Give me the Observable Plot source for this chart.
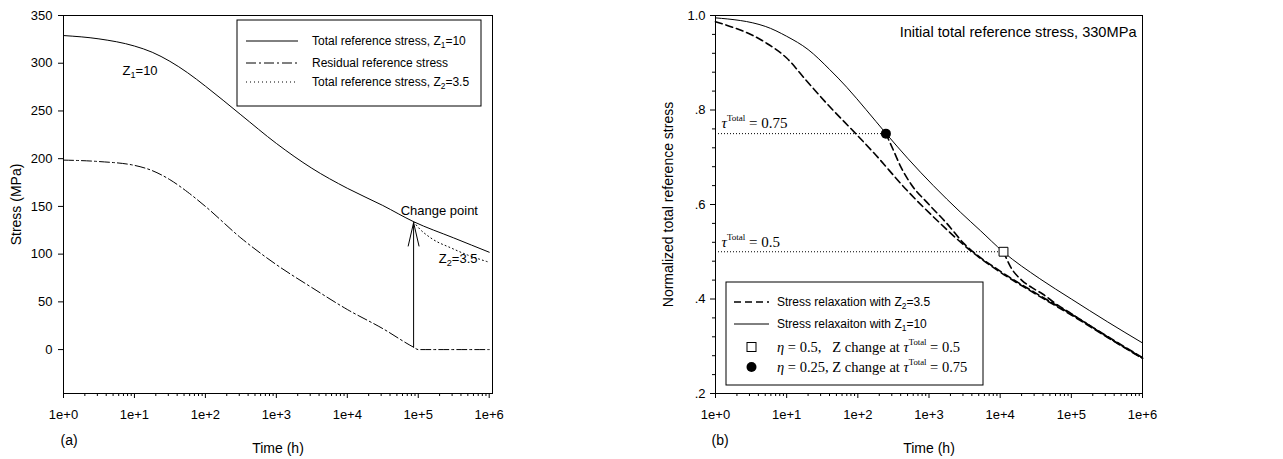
<!DOCTYPE html>
<html><head><meta charset="utf-8">
<script src="https://cdn.jsdelivr.net/npm/d3@7"></script>
<script src="https://cdn.jsdelivr.net/npm/@observablehq/plot@0.6"></script>
<style>
html,body{margin:0;padding:0;background:#fff;}
#wrap{display:flex;width:1283px;height:459px;overflow:hidden;}
#wrap svg{display:block;}
</style></head><body><div id="wrap"></div>
<script>
// ---------- Panel (a) data ----------
const totalTime   = [1, 3.16, 10, 17.8, 31.6, 56.2, 100, 316, 1000, 3160, 1e4, 3.16e4, 8.6e4, 3.16e5, 1e6];
const totalStress = [329, 325.5, 318, 311.5, 302, 290, 276, 246, 216, 190, 169, 151, 134, 117, 102];
const residualTime   = [1, 3.16, 10, 17.8, 31.6, 56.2, 100, 316, 1000, 3160, 1e4, 3.16e4, 8.6e4, 1e5, 1e6];
const residualStress = [198.5, 197, 193, 187.5, 178, 165, 150, 117, 89, 65, 42, 22, 2.5, 0, 0];
const z2Time   = [8.6e4, 1e5, 1.5e5, 3e5, 5e5, 1e6];
const z2Stress = [134, 128, 117, 106, 99, 91.5];
const changeTime = 8.6e4, changeLow = 2.5, changeHigh = 133;
const leftYTicks = [0, 50, 100, 150, 200, 250, 300, 350];

// ---------- Panel (b) data ----------
const z1NTime = [1, 5, 10, 20, 40, 70, 130, 250, 500, 1150, 2750, 5250, 1.1e4, 3.6e4, 1e5, 3.2e5, 1e6];
const z1Norm  = [0.995, 0.977, 0.956, 0.928, 0.886, 0.848, 0.801, 0.750, 0.698, 0.640, 0.584, 0.545, 0.500, 0.443, 0.400, 0.352, 0.307];
const z2NTime = [1, 5, 10, 19, 37, 92, 166, 490, 1440, 4000, 1e4, 3.2e4, 1e5, 3.2e5, 1e6];
const z2Norm  = [0.987, 0.943, 0.910, 0.862, 0.813, 0.751, 0.710, 0.630, 0.560, 0.500, 0.457, 0.410, 0.366, 0.319, 0.274];
const b75Time = [248, 320, 400, 560, 1000, 1780, 3160, 4000, 1e4, 3.2e4, 1e5, 3.2e5, 1e6];
const b75Norm = [0.750, 0.713, 0.680, 0.643, 0.600, 0.560, 0.516, 0.502, 0.459, 0.412, 0.368, 0.321, 0.276];
const b50Time = [11140, 14000, 20000, 28000, 40000, 63000, 1e5, 3.2e5, 1e6];
const b50Norm = [0.500, 0.468, 0.440, 0.424, 0.410, 0.388, 0.369, 0.320, 0.275];
const tauLevels   = [0.75, 0.5];
const tauTimes    = [248, 11140];
const rightYMajor = [0.2, 0.4, 0.6, 0.8, 1.0];
const rightYMinor = [0.24,0.28,0.32,0.36,0.44,0.48,0.52,0.56,0.64,0.68,0.72,0.76,0.84,0.88,0.92,0.96];

const xMajor = [1, 10, 100, 1e3, 1e4, 1e5, 1e6];
const xMinor = [];
for (const d of [1, 10, 100, 1e3, 1e4, 1e5]) for (let k = 2; k <= 9; k++) xMinor.push(d * k);

const zip = (ts, vs) => ts.map((t, i) => ({t, v: vs[i]}));
const fmtE = d => "1e+" + Math.round(Math.log10(d));
const SANS = "'Liberation Sans', Arial, sans-serif";
const SERIF = "'Liberation Serif', 'Times New Roman', serif";

// markup: _{sub}  ^{sup}  ~{italic}
function richify(svg) {
  d3.select(svg).selectAll("text").each(function () {
    const el = this;
    const t = el.textContent;
    if (!/[_^~]\{/.test(t)) return;
    while (el.firstChild) el.removeChild(el.firstChild);
    const re = /([_^~])\{([^}]*)\}/g;
    let last = 0, m;
    const parts = [];
    while ((m = re.exec(t))) {
      if (m.index > last) parts.push({s: t.slice(last, m.index)});
      parts.push({s: m[2], k: m[1]});
      last = re.lastIndex;
    }
    if (last < t.length) parts.push({s: t.slice(last)});
    for (const p of parts) {
      const ts = d3.select(el).append("tspan").text(p.s);
      if (p.k === "_") ts.attr("font-size", "70%").attr("baseline-shift", "-0.3em");
      if (p.k === "^") ts.attr("font-size", "60%").attr("baseline-shift", "0.75em");
      if (p.k === "~") ts.attr("font-style", "italic");
    }
  });
}

// ---------- Panel (a) ----------
const W1 = 640, H = 459;
const left = Plot.plot({
  width: W1, height: H, marginLeft: 63, marginRight: 148, marginTop: 15, marginBottom: 66,
  style: {fontFamily: SANS, fontSize: "13px", background: "white", color: "black", overflow: "visible"},
  x: {type: "log", domain: [1, 1.113e6], axis: null},
  y: {domain: [-46, 350], axis: null},
  marks: [
    Plot.frame({stroke: "black", strokeWidth: 1}),
    Plot.axisX(xMajor, {tickSize: 5, tickPadding: 11, tickFormat: fmtE, label: null, fontSize: 13}),
    Plot.axisX(xMinor, {tickSize: 3, tickFormat: () => "", label: null}),
    Plot.axisY(leftYTicks, {tickSize: 5, tickPadding: 6, label: null, fontSize: 13}),
    Plot.line(zip(totalTime, totalStress), {x: "t", y: "v", stroke: "black", strokeWidth: 1, curve: "monotone-x"}),
    Plot.line(zip(residualTime, residualStress), {x: "t", y: "v", stroke: "black", strokeWidth: 1, strokeDasharray: "10,3,2,3", curve: "monotone-x"}),
    Plot.line(zip(z2Time, z2Stress), {x: "t", y: "v", stroke: "black", strokeWidth: 1, strokeDasharray: "1,3", curve: "monotone-x"}),
    Plot.arrow([{t: changeTime, lo: changeLow, hi: changeHigh}], {x: "t", y1: "lo", y2: "hi", stroke: "black", strokeWidth: 1, headAngle: 26, headLength: 36}),
    Plot.text(["Z_{1}=10"], {x: 12, y: 292, fontSize: 13}),
    Plot.text(["Change point"], {x: 1.98e5, y: 145, fontSize: 13}),
    Plot.text(["Z_{2}=3.5"], {x: 3.65e5, y: 95, fontSize: 13}),
    Plot.text(["Stress (MPa)"], {frameAnchor: "left", rotate: -90, dx: -47, textAnchor: "middle", fontSize: 14}),
    Plot.text(["Time (h)"], {frameAnchor: "bottom", dy: 59, fontSize: 14}),
    Plot.text(["(a)"], {frameAnchor: "bottom-left", dx: -3, dy: 51, textAnchor: "start", fontSize: 14})
  ]
});

// ---------- Panel (b) ----------
const W2 = 643;
const right = Plot.plot({
  width: W2, height: H, marginLeft: 75, marginRight: 141, marginTop: 15, marginBottom: 66,
  style: {fontFamily: SANS, fontSize: "13px", background: "white", color: "black", overflow: "visible"},
  x: {type: "log", domain: [1, 1e6], axis: null},
  y: {domain: [0.2, 1.0], axis: null},
  marks: [
    Plot.frame({stroke: "black", strokeWidth: 1}),
    Plot.axisX(xMajor, {tickSize: 5, tickPadding: 11, tickFormat: fmtE, label: null, fontSize: 13}),
    Plot.axisX(xMinor, {tickSize: 3, tickFormat: () => "", label: null}),
    Plot.axisY(rightYMajor, {tickSize: 5, tickPadding: 5, label: null, fontSize: 13,
      tickFormat: d => d === 1 ? "1.0" : d.toFixed(1).replace(/^0/, "")}),
    Plot.axisY(rightYMinor, {tickSize: 3, tickFormat: () => "", label: null}),
    Plot.ruleY(tauLevels.map((y, i) => ({y, t: tauTimes[i]})), {y: "y", x1: 1, x2: "t", stroke: "black", strokeWidth: 1, strokeDasharray: "1,2"}),
    Plot.line(zip(z1NTime, z1Norm), {x: "t", y: "v", stroke: "black", strokeWidth: 1, curve: "monotone-x"}),
    Plot.line(zip(z2NTime, z2Norm), {x: "t", y: "v", stroke: "black", strokeWidth: 1.6, strokeDasharray: "7,4", curve: "monotone-x"}),
    Plot.line(zip(b75Time, b75Norm), {x: "t", y: "v", stroke: "black", strokeWidth: 1.6, strokeDasharray: "7,4", curve: "monotone-x"}),
    Plot.line(zip(b50Time, b50Norm), {x: "t", y: "v", stroke: "black", strokeWidth: 1.6, strokeDasharray: "7,4", curve: "monotone-x"}),
    Plot.dot([{t: tauTimes[0], v: tauLevels[0]}], {x: "t", y: "v", r: 5, fill: "black", stroke: "none"}),
    Plot.dot([{t: tauTimes[1], v: tauLevels[1]}], {x: "t", y: "v", r: 5, symbol: "square", fill: "white", stroke: "black", strokeWidth: 1}),
    Plot.text(["~{τ}^{Total} = 0.75"], {x: 1, y: tauLevels[0], dx: 6, dy: -10, textAnchor: "start", fontFamily: SERIF, fontSize: 15}),
    Plot.text(["~{τ}^{Total} = 0.5"], {x: 1, y: tauLevels[1], dx: 6, dy: -10, textAnchor: "start", fontFamily: SERIF, fontSize: 15}),
    Plot.text(["Initial total reference stress, 330MPa"], {frameAnchor: "top-right", dx: -6, dy: 11, fontSize: 14.6}),
    Plot.text(["Normalized total reference stress"], {frameAnchor: "left", rotate: -90, dx: -47, textAnchor: "middle", fontSize: 14}),
    Plot.text(["Time (h)"], {frameAnchor: "bottom", dy: 59, fontSize: 14}),
    Plot.text(["(b)"], {frameAnchor: "bottom-left", dx: -4, dy: 51, textAnchor: "start", fontSize: 14})
  ]
});

// ---------- Legends (layout only) ----------
function legend(svg, box, rows) {
  const g = d3.select(svg).append("g").attr("text-anchor", "start");
  g.append("rect").attr("x", box.x).attr("y", box.y).attr("width", box.w).attr("height", box.h)
    .attr("fill", "white").attr("stroke", "black").attr("stroke-width", 1);
  for (const r of rows) {
    if (r.dash !== undefined) {
      g.append("line").attr("x1", box.sx1).attr("x2", box.sx2).attr("y1", r.y).attr("y2", r.y)
        .attr("stroke", "black").attr("stroke-width", r.sw || 1).attr("stroke-dasharray", r.dash || null);
    }
    if (r.marker === "square") {
      const c = (box.sx1 + box.sx2) / 2;
      g.append("rect").attr("x", c - 4.5).attr("y", r.y - 4.5).attr("width", 9).attr("height", 9)
        .attr("fill", "white").attr("stroke", "black");
    }
    if (r.marker === "dot") {
      g.append("circle").attr("cx", (box.sx1 + box.sx2) / 2).attr("cy", r.y).attr("r", 5).attr("fill", "black");
    }
    g.append("text").attr("x", box.tx).attr("y", r.y).attr("dy", "0.35em")
      .attr("text-anchor", "start").attr("xml:space", "preserve")
      .attr("font-family", r.serif ? SERIF : SANS).attr("font-size", r.fs || 12)
      .style("white-space", "pre").text(r.label);
  }
}
legend(left, {x: 237, y: 20, w: 244, h: 86, sx1: 246, sx2: 298, tx: 312}, [
  {y: 41, dash: "", label: "Total reference stress, Z_{1}=10"},
  {y: 63, dash: "10,3,2,3", label: "Residual reference stress"},
  {y: 82, dash: "1,3", label: "Total reference stress, Z_{2}=3.5"}
]);
legend(right, {x: 86, y: 282, w: 257, h: 103, sx1: 94, sx2: 129, tx: 137}, [
  {y: 302, dash: "7,4", sw: 1.6, label: "Stress relaxation with Z_{2}=3.5"},
  {y: 324, dash: "", label: "Stress relaxaiton with Z_{1}=10"},
  {y: 347, marker: "square", serif: true, fs: 14.5, label: "~{η} = 0.5,   Z change at ~{τ}^{Total} = 0.5"},
  {y: 367, marker: "dot", serif: true, fs: 14.5, label: "~{η} = 0.25, Z change at ~{τ}^{Total} = 0.75"}
]);

richify(left);
richify(right);
document.getElementById("wrap").append(left, right);
</script>
</body></html>
